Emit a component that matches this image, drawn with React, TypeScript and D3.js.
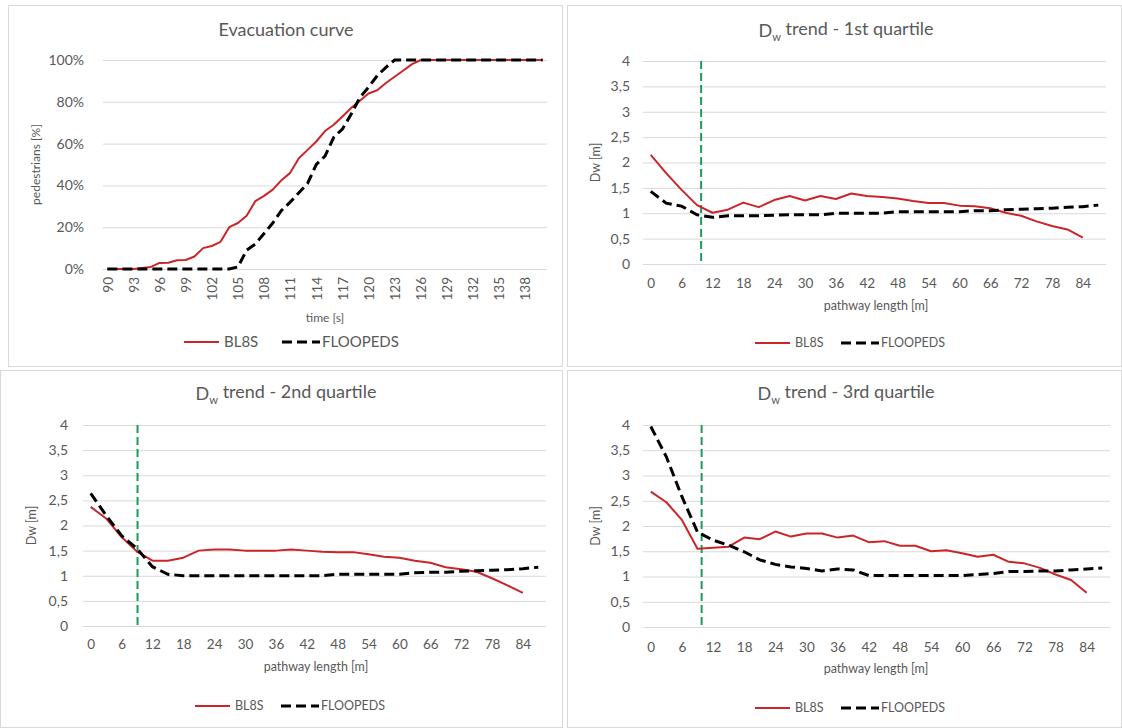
import React, { useRef, useEffect } from 'react';
import * as d3 from 'd3';

// evacuation curve (time in s, share of pedestrians out in %)
const evacTimes = [
  90, 91, 92, 93, 94, 95, 96, 97, 98, 99, 100, 101, 102, 103, 104, 105, 106, 107, 108, 109,
  110, 111, 112, 113, 114, 115, 116, 117, 118, 119, 120, 121, 122, 123, 124, 125, 126, 127, 128, 129,
  130, 131, 132, 133, 134, 135, 136, 137, 138, 139, 140
];
const evacBL8S = [
  0, 0, 0, 0, 0.5, 1, 2.9, 3, 4.2, 4.3, 6, 10, 11, 13, 20, 22, 25.5, 32.5, 35, 38,
  42.5, 46, 53, 57, 61, 66, 69, 73, 77, 80.5, 84, 85.5, 89, 92, 95, 98, 100, 100, 100, 100,
  100, 100, 100, 100, 100, 100, 100, 100, 100, 100, 100
];
const evacFLOOPEDS = [
  0, 0, 0, 0, 0, 0, 0, 0, 0, 0, 0, 0, 0, 0, 0, 1, 9, 12, 17, 22,
  28, 32, 36.5, 41, 50, 54, 63, 67, 74, 82, 87, 92.5, 96.5, 100, 100, 100, 100, 100, 100, 100,
  100, 100, 100, 100, 100, 100, 100, 100, 100, 100, 100
];
const evacXLabels = [90, 93, 96, 99, 102, 105, 108, 111, 114, 117, 120, 123, 126, 129, 132, 135, 138];
const evacYTicks = [0, 20, 40, 60, 80, 100];

// Dw trend along the pathway (m)
const pathway = [0, 3, 6, 9, 12, 15, 18, 21, 24, 27, 30, 33, 36, 39, 42, 45, 48, 51, 54, 57, 60, 63, 66, 69, 72, 75, 78, 81, 84, 87];
const pathwayLabels = [0, 6, 12, 18, 24, 30, 36, 42, 48, 54, 60, 66, 72, 78, 84];
const dwYTicks = [0, 0.5, 1, 1.5, 2, 2.5, 3, 3.5, 4];

const q1BL8S = [2.15, 1.79, 1.46, 1.16, 1.01, 1.07, 1.21, 1.12, 1.26, 1.34, 1.25, 1.34, 1.28, 1.39, 1.34, 1.32, 1.29, 1.24, 1.2, 1.2, 1.15, 1.14, 1.1, 1.01, 0.95, 0.84, 0.75, 0.68, 0.52];
const q1FLOOPEDS = [1.43, 1.2, 1.14, 0.97, 0.92, 0.95, 0.95, 0.95, 0.96, 0.97, 0.97, 0.97, 1.0, 1.0, 1.0, 1.0, 1.03, 1.03, 1.03, 1.03, 1.03, 1.05, 1.05, 1.07, 1.08, 1.09, 1.1, 1.12, 1.13, 1.16];
const q2BL8S = [2.37, 2.14, 1.77, 1.48, 1.3, 1.3, 1.36, 1.5, 1.52, 1.52, 1.5, 1.5, 1.5, 1.52, 1.5, 1.48, 1.47, 1.47, 1.43, 1.38, 1.36, 1.3, 1.26, 1.17, 1.13, 1.08, 0.95, 0.81, 0.66];
const q2FLOOPEDS = [2.64, 2.2, 1.8, 1.54, 1.18, 1.03, 1.0, 1.0, 1.0, 1.0, 1.0, 1.0, 1.0, 1.0, 1.0, 1.0, 1.03, 1.03, 1.03, 1.03, 1.03, 1.06, 1.07, 1.07, 1.09, 1.1, 1.11, 1.12, 1.14, 1.17];
const q3BL8S = [2.68, 2.47, 2.12, 1.55, 1.57, 1.59, 1.77, 1.74, 1.89, 1.79, 1.85, 1.85, 1.77, 1.81, 1.68, 1.7, 1.61, 1.61, 1.5, 1.52, 1.46, 1.39, 1.43, 1.29, 1.26, 1.17, 1.04, 0.93, 0.68];
const q3FLOOPEDS = [3.97, 3.37, 2.58, 1.88, 1.72, 1.62, 1.49, 1.33, 1.24, 1.19, 1.16, 1.11, 1.15, 1.13, 1.02, 1.02, 1.02, 1.02, 1.02, 1.02, 1.02, 1.04, 1.06, 1.1, 1.1, 1.11, 1.11, 1.13, 1.15, 1.17];
// position of the green reference line (m)
const refLine = [9.8, 9.1, 9.8];

const FONT = "Lato, 'Open Sans', sans-serif";
const GRAY = '#595959';
const RED = '#cc2529';
const GREEN = '#1f9a5c';
const GRID = '#d9d9d9';

type Panel = {
  border: [number, number, number, number];
  title: string[]; // [before sub, sub, after sub]
  titleX: number; titleY: number; titleSize: number;
  left: number; right: number; top: number; bottom: number;
  cats: number[]; step: number; xLabels: number[]; rotate: boolean; xLabelY: number; xLabelSize: number;
  yMax: number; yTicks: number[]; yFmt: (v: number) => string; yTickX: number; yTickSize: number;
  yTitle: string; yTitleX: number;
  xTitle: string; xTitleX: number; xTitleY: number; axisTitleSize: number;
  a: number[]; b: number[]; ref?: number;
  legY: number; legX: number; legSize: number; legGap: number; legTextW: number;
};

const dwFmt = (v: number) => String(v).replace('.', ',');

const panels: Panel[] = [
  {
    border: [8, 5, 563, 367], title: ['Evacuation curve', '', ''], titleX: 286, titleY: 30, titleSize: 18,
    left: 103, right: 547, top: 60, bottom: 269,
    cats: evacTimes, step: 1, xLabels: evacXLabels, rotate: true, xLabelY: 277, xLabelSize: 13.5,
    yMax: 100, yTicks: evacYTicks, yFmt: v => `${v}%`, yTickX: 84, yTickSize: 14,
    yTitle: 'pedestrians [%]', yTitleX: 36,
    xTitle: 'time [s]', xTitleX: 325, xTitleY: 318, axisTitleSize: 12,
    a: evacBL8S, b: evacFLOOPEDS,
    legY: 342, legX: 184, legSize: 15, legGap: 57, legTextW: 36,
  },
  {
    border: [567, 5, 1122, 367], title: ['D', 'w', ' trend - 1st quartile'], titleX: 846, titleY: 31, titleSize: 18,
    left: 643, right: 1106, top: 61, bottom: 264,
    cats: pathway, step: 3, xLabels: pathwayLabels, rotate: false, xLabelY: 283, xLabelSize: 13.5,
    yMax: 4, yTicks: dwYTicks, yFmt: dwFmt, yTickX: 630, yTickSize: 14,
    yTitle: 'Dw [m]', yTitleX: 596,
    xTitle: 'pathway length [m]', xTitleX: 876, xTitleY: 306, axisTitleSize: 12.5,
    a: q1BL8S, b: q1FLOOPEDS, ref: refLine[0],
    legY: 343, legX: 755, legSize: 12.5, legGap: 51, legTextW: 30,
  },
  {
    border: [0, 370, 563, 728], title: ['D', 'w', ' trend - 2nd quartile'], titleX: 286, titleY: 394, titleSize: 18,
    left: 83, right: 546, top: 425, bottom: 626,
    cats: pathway, step: 3, xLabels: pathwayLabels, rotate: false, xLabelY: 644, xLabelSize: 13.5,
    yMax: 4, yTicks: dwYTicks, yFmt: dwFmt, yTickX: 68, yTickSize: 14,
    yTitle: 'Dw [m]', yTitleX: 32,
    xTitle: 'pathway length [m]', xTitleX: 316, xTitleY: 667, axisTitleSize: 12.5,
    a: q2BL8S, b: q2FLOOPEDS, ref: refLine[1],
    legY: 706, legX: 195, legSize: 12.5, legGap: 51, legTextW: 30,
  },
  {
    border: [567, 370, 1122, 728], title: ['D', 'w', ' trend - 3rd quartile'], titleX: 846, titleY: 394, titleSize: 18,
    left: 643, right: 1110, top: 425, bottom: 627,
    cats: pathway, step: 3, xLabels: pathwayLabels, rotate: false, xLabelY: 647, xLabelSize: 13.5,
    yMax: 4, yTicks: dwYTicks, yFmt: dwFmt, yTickX: 630, yTickSize: 14,
    yTitle: 'Dw [m]', yTitleX: 596,
    xTitle: 'pathway length [m]', xTitleX: 876, xTitleY: 669, axisTitleSize: 12.5,
    a: q3BL8S, b: q3FLOOPEDS, ref: refLine[2],
    legY: 708, legX: 755, legSize: 12.5, legGap: 51, legTextW: 30,
  },
];

const App: React.FC = () => {
  const svgRef = useRef<SVGSVGElement | null>(null);

  useEffect(() => {
    const svg = d3.select(svgRef.current);
    svg.selectAll('*').remove();

    svg.append('rect').attr('width', 1122).attr('height', 728).attr('fill', '#fff');

    panels.forEach(p => {
      const [bx0, by0, bx1, by1] = p.border;
      svg.append('rect')
        .attr('x', bx0 + 0.5).attr('y', by0 + 0.5)
        .attr('width', bx1 - bx0 - 1).attr('height', by1 - by0 - 1)
        .attr('fill', 'none').attr('stroke', GRID);

      const first = p.cats[0];
      const last = p.cats[p.cats.length - 1];
      const x = d3.scaleLinear()
        .domain([first - p.step / 2, last + p.step / 2])
        .range([p.left, p.right]);
      const y = d3.scaleLinear().domain([0, p.yMax]).range([p.bottom, p.top]);

      // gridlines + y labels
      const yAxis = svg.append('g')
        .attr('transform', `translate(${p.left},0)`)
        .call(d3.axisLeft(y).tickValues(p.yTicks).tickSize(-(p.right - p.left))
          .tickPadding(p.left - p.yTickX).tickFormat(v => p.yFmt(+v)));
      yAxis.select('.domain').remove();
      yAxis.selectAll('line').attr('stroke', GRID);
      yAxis.selectAll('text')
        .attr('fill', GRAY).style('font-family', FONT).style('font-size', `${p.yTickSize}px`);

      // x labels
      const xAxis = svg.append('g')
        .attr('transform', `translate(0,${p.bottom})`)
        .call(d3.axisBottom(x).tickValues(p.xLabels).tickSize(0).tickFormat(v => String(v)));
      xAxis.select('.domain').remove();
      const xt = xAxis.selectAll('text')
        .attr('fill', GRAY).style('font-family', FONT).style('font-size', `${p.xLabelSize}px`);
      if (p.rotate) {
        xt.attr('transform', 'rotate(-90)')
          .attr('x', -(p.xLabelY - p.bottom)).attr('y', 0).attr('dy', '0.35em')
          .style('text-anchor', 'end');
      } else {
        xt.attr('y', p.xLabelY - p.bottom).attr('dy', '0.35em');
      }

      // green reference line
      if (p.ref !== undefined) {
        svg.append('line')
          .attr('x1', x(p.ref)).attr('x2', x(p.ref))
          .attr('y1', p.top).attr('y2', p.bottom)
          .attr('stroke', GREEN).attr('stroke-width', 2).attr('stroke-dasharray', '8 4');
      }

      // series
      const line = d3.line<number>()
        .x((_, i) => x(p.cats[i]))
        .y(d => y(d));
      svg.append('path').datum(p.a)
        .attr('d', line).attr('fill', 'none')
        .attr('stroke', RED).attr('stroke-width', 2).attr('stroke-linejoin', 'round');
      svg.append('path').datum(p.b)
        .attr('d', line).attr('fill', 'none')
        .attr('stroke', '#000').attr('stroke-width', 3).attr('stroke-dasharray', '10 5');

      // title
      const t = svg.append('text')
        .attr('x', p.titleX).attr('y', p.titleY).attr('dy', '0.35em')
        .attr('text-anchor', 'middle').attr('fill', GRAY)
        .style('font-family', FONT).style('font-size', `${p.titleSize}px`);
      t.append('tspan').text(p.title[0]);
      if (p.title[1]) {
        t.append('tspan').attr('dy', '0.3em').style('font-size', `${p.titleSize * 0.62}px`).text(p.title[1]);
        t.append('tspan').attr('dy', '-0.3em').text(p.title[2]);
      }

      // axis titles
      const cy = (p.top + p.bottom) / 2;
      svg.append('text')
        .attr('transform', `translate(${p.yTitleX},${cy}) rotate(-90)`)
        .attr('text-anchor', 'middle').attr('dy', '0.35em').attr('fill', GRAY)
        .style('font-family', FONT).style('font-size', `${p.axisTitleSize}px`)
        .text(p.yTitle);
      svg.append('text')
        .attr('x', p.xTitleX).attr('y', p.xTitleY).attr('dy', '0.35em')
        .attr('text-anchor', 'middle').attr('fill', GRAY)
        .style('font-family', FONT).style('font-size', `${p.axisTitleSize}px`)
        .text(p.xTitle);

      // legend
      const leg = svg.append('g').attr('transform', `translate(${p.legX},${p.legY})`);
      leg.append('line').attr('x1', 0).attr('x2', 35).attr('y1', 0).attr('y2', 0)
        .attr('stroke', RED).attr('stroke-width', 2);
      leg.append('text').attr('x', 40).attr('dy', '0.35em').attr('fill', GRAY)
        .style('font-family', FONT).style('font-size', `${p.legSize}px`).text('BL8S');
      const lx = 40 + p.legTextW + p.legGap - 35;
      leg.append('line').attr('x1', lx).attr('x2', lx + 38).attr('y1', 0).attr('y2', 0)
        .attr('stroke', '#000').attr('stroke-width', 3).attr('stroke-dasharray', '10 5');
      leg.append('text').attr('x', lx + 40).attr('dy', '0.35em').attr('fill', GRAY)
        .style('font-family', FONT).style('font-size', `${p.legSize}px`).text('FLOOPEDS');
    });
  }, []);

  return (
    <svg ref={svgRef} width={1122} height={728}
      style={{ position: 'absolute', left: 0, top: 0, display: 'block' }} />
  );
};

export default App;
